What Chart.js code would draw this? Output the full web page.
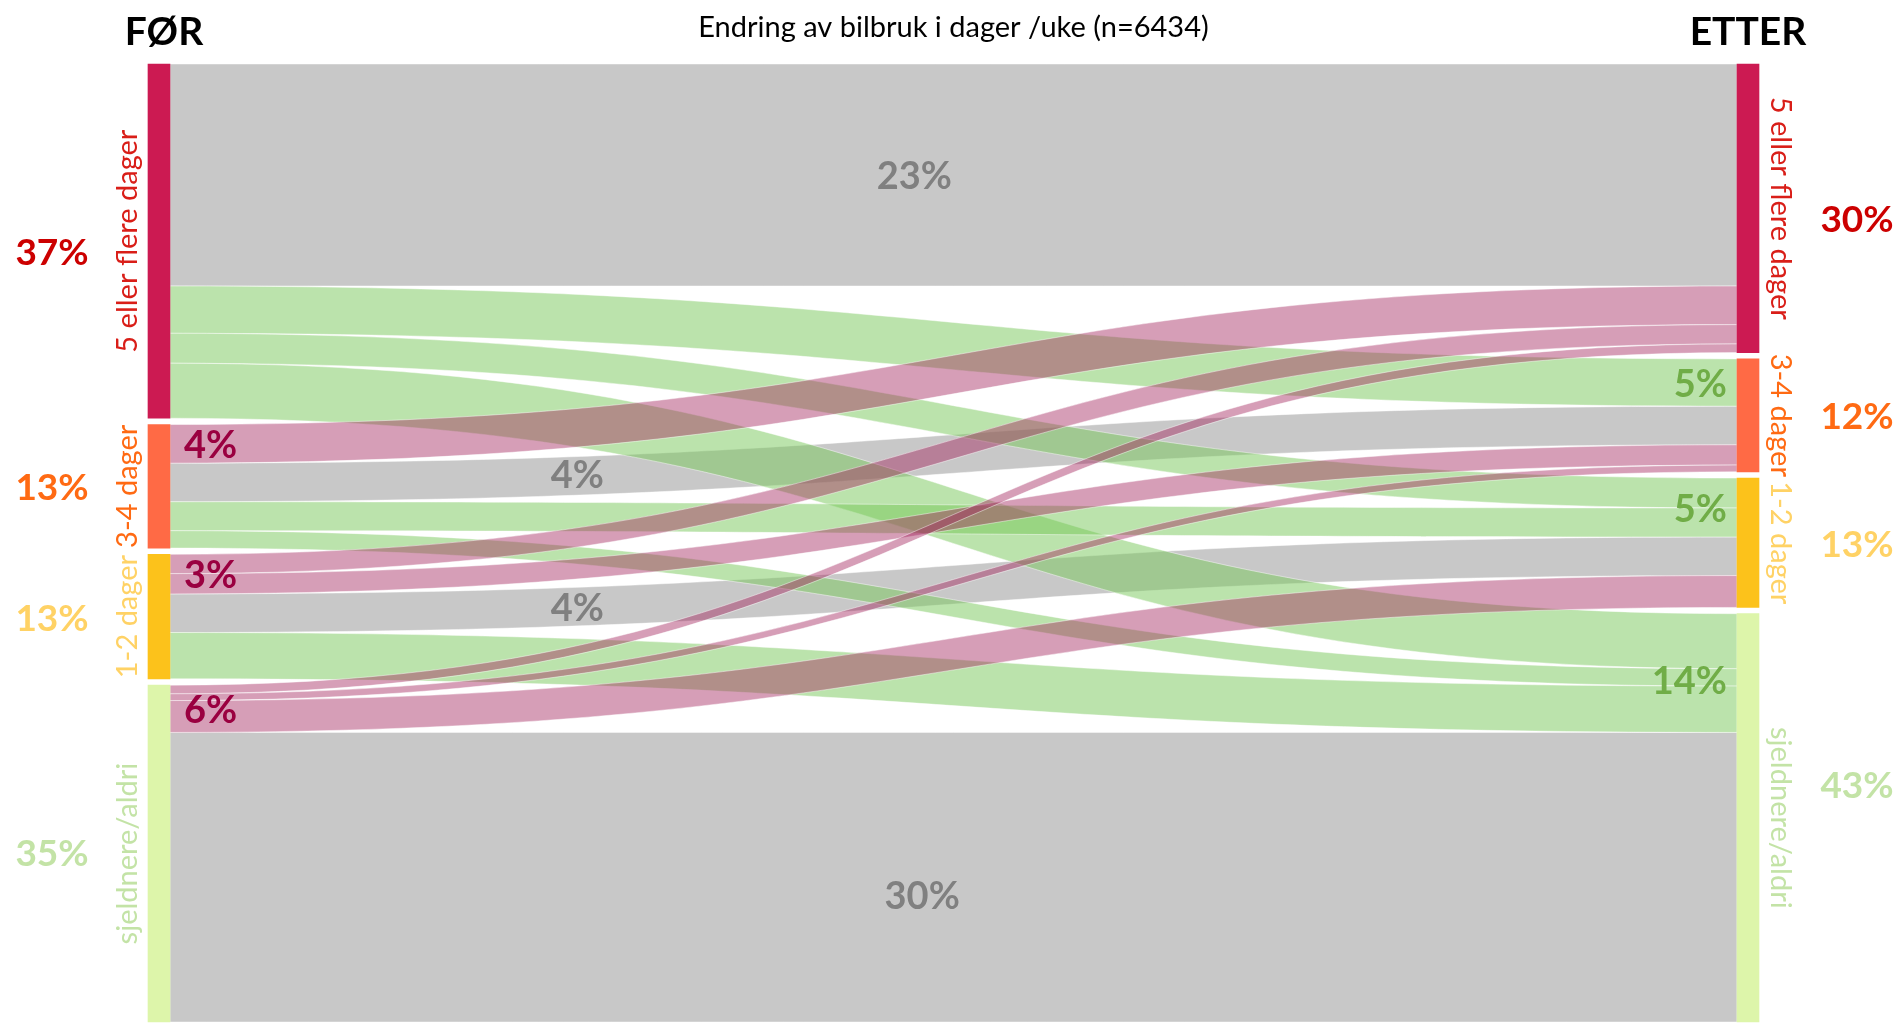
<!DOCTYPE html>
<html>
<head>
<meta charset="utf-8">
<script src="https://cdn.jsdelivr.net/npm/chart.js@4.4.1/dist/chart.umd.min.js"></script>
<style>
  html, body { margin: 0; background: #fff; }
  #wrap { width: 1898px; height: 1025px; }
</style>
</head>
<body>
<div id="wrap"><canvas id="chart"></canvas></div>
<script>
// =======================
// DATA
// =======================
const groups = ['5 eller flere dager', '3-4 dager', '1-2 dager', 'sjeldnere/aldri'];
const shareBefore = ['37%', '13%', '13%', '35%'];
const shareAfter = ['30%', '12%', '13%', '43%'];

// flows in % of respondents, FØR group -> ETTER groups (same order as groups)
const from5plus = [23, 4.9, 3.1, 5.7];
const from3to4 = [4.0, 4.0, 3.0, 1.8];
const from1to2 = [2.0, 2.1, 4.0, 4.8];
const fromRarely = [0.9, 0.7, 3.3, 30];
const flows = [from5plus, from3to4, from1to2, fromRarely];

const stayLabels = ['23%', '4%', '4%', '30%'];   // same usage
const moreLabels = [null, '4%', '3%', '6%'];     // more car use, by FØR group
const lessLabels = [null, '5%', '5%', '14%'];    // less car use, by ETTER group

// =======================
// LAYOUT (in % units)
// =======================
const GAP = 0.65;
const NODE_W = 22;
const FONT = 'Lato, "Open Sans", sans-serif';

const nodeColors = ['#CC1A52', '#FF6A45', '#FCC21B', '#DDF5AA'];
const textColors = ['#D91E18', '#FF6A13', '#FFD265', '#C3E3A6'];
const shareColors = ['#CC0000', '#FF6A13', '#FFD265', '#C3E3A6'];

const rowTot = flows.map(r => r.reduce((a, b) => a + b, 0));
const colTot = groups.map((_, j) => flows.reduce((a, r) => a + r[j], 0));

function stack(tots) {
    let acc = 0;
    return tots.map(t => { const s = acc; acc += t + GAP; return [s, s + t]; });
}
const leftNodes = stack(rowTot);
const rightNodes = stack(colTot);
const yMax = rowTot.reduce((a, b) => a + b, 0) + GAP * (groups.length - 1);

const links = [];
flows.forEach((row, i) => {
    row.forEach((v, j) => {
        const l0 = leftNodes[i][0] + row.slice(0, j).reduce((a, b) => a + b, 0);
        let r0 = rightNodes[j][0];
        for (let k = 0; k < i; k++) r0 += flows[k][j];
        links.push({ i, j, v, l0, l1: l0 + v, r0, r1: r0 + v });
    });
});

function linkColor(l) {
    if (l.i === l.j) return 'rgba(150,150,150,0.52)';
    if (l.i < l.j) return 'rgba(120,200,90,0.5)';
    return 'rgba(165,40,95,0.45)';
}

// cubic band shape, u -> [xfrac, yfrac]
function bez(u) {
    return [1.5 * u * (1 - u) + u * u * u, 3 * u * u - 2 * u * u * u];
}
function yFracAtX(fx) {
    let lo = 0, hi = 1;
    for (let n = 0; n < 40; n++) {
        const m = (lo + hi) / 2;
        if (bez(m)[0] < fx) lo = m; else hi = m;
    }
    return bez((lo + hi) / 2)[1];
}

// =======================
// PLUGINS
// =======================
const sankeyFlows = {
    id: 'sankeyFlows',
    beforeDatasetsDraw(chart) {
        const { ctx, scales: { x, y } } = chart;
        const xl = x.getPixelForValue(0) + NODE_W / 2;
        const xr = x.getPixelForValue(1) - NODE_W / 2;
        const xm = (xl + xr) / 2;
        const rank = l => (l.i === l.j ? 0 : l.i < l.j ? 1 : 2);
        const order = [...links].sort((a, b) => rank(a) - rank(b));
        ctx.save();
        order.forEach(l => {
            const a0 = y.getPixelForValue(l.l0), a1 = y.getPixelForValue(l.l1);
            const b0 = y.getPixelForValue(l.r0), b1 = y.getPixelForValue(l.r1);
            ctx.beginPath();
            ctx.moveTo(xl, a0);
            ctx.bezierCurveTo(xm, a0, xm, b0, xr, b0);
            ctx.lineTo(xr, b1);
            ctx.bezierCurveTo(xm, b1, xm, a1, xl, a1);
            ctx.closePath();
            ctx.fillStyle = linkColor(l);
            ctx.fill();
            ctx.strokeStyle = 'rgba(255,255,255,0.45)';
            ctx.lineWidth = 1;
            ctx.stroke();
        });
        ctx.restore();
    },
    afterDatasetsDraw(chart) {
        const { ctx, scales: { x, y } } = chart;
        const xL = x.getPixelForValue(0);
        const xR = x.getPixelForValue(1);
        const xl = xL + NODE_W / 2, xr = xR - NODE_W / 2;
        ctx.save();
        ctx.textBaseline = 'middle';

        // FØR / ETTER
        ctx.fillStyle = '#000';
        ctx.font = 'bold 39px ' + FONT;
        ctx.textAlign = 'center';
        ctx.fillText('FØR', xL + 5, 32);
        ctx.fillText('ETTER', xR, 32);

        const nudgeBefore = [12, 2, 2, 0];
        const nudgeAfter = [12, 2, 2, -32];
        groups.forEach((g, i) => {
            const lc = y.getPixelForValue((leftNodes[i][0] + leftNodes[i][1]) / 2);
            const rc = y.getPixelForValue((rightNodes[i][0] + rightNodes[i][1]) / 2);

            // node names, rotated
            ctx.font = '29px ' + FONT;
            ctx.fillStyle = textColors[i];
            ctx.textAlign = 'center';
            ctx.save();
            ctx.translate(xL - 31, lc);
            ctx.rotate(-Math.PI / 2);
            ctx.fillText(g, 0, 0);
            ctx.restore();
            ctx.save();
            ctx.translate(xR + 32, rc);
            ctx.rotate(Math.PI / 2);
            ctx.fillText(g, 0, 0);
            ctx.restore();

            // shares outside
            ctx.font = 'bold 37px ' + FONT;
            ctx.fillStyle = shareColors[i];
            ctx.fillText(shareBefore[i], 52, lc + nudgeBefore[i]);
            ctx.fillText(shareAfter[i], 1857, rc + nudgeAfter[i]);
        });

        // same-usage labels inside gray bands
        const stayPos = [0.475, 0.26, 0.26, 0.48];
        const stayNudge = [2, 0, 2, 20];
        ctx.font = 'bold 38px ' + FONT;
        ctx.fillStyle = '#808080';
        ctx.textAlign = 'center';
        links.filter(l => l.i === l.j).forEach(l => {
            const fx = stayPos[l.i];
            const fy = yFracAtX(fx);
            const c0 = (l.l0 + l.l1) / 2, c1 = (l.r0 + l.r1) / 2;
            const px = xl + (xr - xl) * fx;
            const py = y.getPixelForValue(c0 + (c1 - c0) * fy);
            ctx.fillText(stayLabels[l.i], px, py + stayNudge[l.i]);
        });

        // more car use, left side
        ctx.fillStyle = '#9A0040';
        ctx.textAlign = 'left';
        moreLabels.forEach((t, i) => {
            if (!t) return;
            const top = leftNodes[i][0];
            const h = flows[i].slice(0, i).reduce((a, b) => a + b, 0);
            ctx.fillText(t, xl + 14, y.getPixelForValue(top + h / 2) + 2);
        });

        // less car use, right side
        const lessNudge = [0, 2, 2, 9];
        ctx.fillStyle = '#70AD47';
        ctx.textAlign = 'right';
        lessLabels.forEach((t, j) => {
            if (!t) return;
            const top = rightNodes[j][0];
            let h = 0;
            for (let k = 0; k < j; k++) h += flows[k][j];
            ctx.fillText(t, xr - 10, y.getPixelForValue(top + h / 2) + lessNudge[j]);
        });
        ctx.restore();
    }
};

// =======================
// CHART
// =======================
const nodeData = [
    ...leftNodes.map(n => ({ x: 0, y: n })),
    ...rightNodes.map(n => ({ x: 1, y: n }))
];

new Chart(document.getElementById('chart'), {
    type: 'bar',
    data: {
        datasets: [{
            data: nodeData,
            backgroundColor: [...nodeColors, ...nodeColors],
            borderWidth: 0,
            barThickness: NODE_W,
            clip: false
        }]
    },
    options: {
        responsive: true,
        maintainAspectRatio: false,
        animation: false,
        events: [],
        layout: { padding: { left: 159, right: 150, top: 0, bottom: 3 } },
        scales: {
            x: { type: 'linear', min: 0, max: 1, offset: false, display: false },
            y: { type: 'linear', min: 0, max: yMax, reverse: true, display: false }
        },
        plugins: {
            legend: { display: false },
            tooltip: { enabled: false },
            title: {
                display: true,
                text: 'Endring av bilbruk i dager /uke (n=6434)',
                color: '#000',
                font: { family: FONT, size: 29, weight: 'normal', lineHeight: 1.2 },
                padding: { top: 10, bottom: 19.2 }
            }
        }
    },
    plugins: [sankeyFlows]
});
</script>
</body>
</html>
